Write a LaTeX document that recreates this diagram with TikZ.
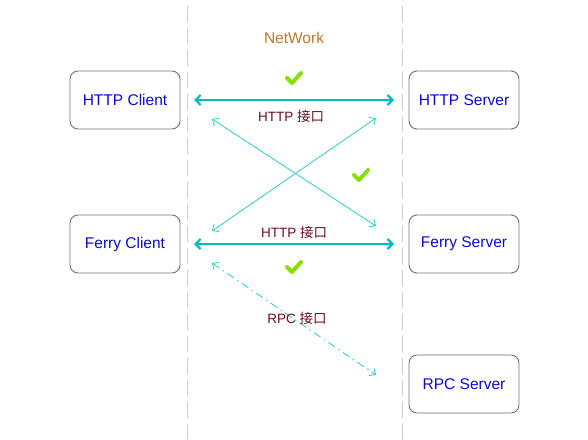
\documentclass[tikz,border=0pt]{standalone}
\usepackage{fontspec}
\setmainfont{Liberation Sans}
\newfontfamily\cjk{Noto Sans CJK SC}
\usetikzlibrary{arrows.meta}
\definecolor{boxline}{HTML}{707070}
\definecolor{nodetext}{HTML}{0A0ACC}
\definecolor{labred}{HTML}{700A1C}
\definecolor{netcol}{HTML}{B87A30}
\definecolor{cyanA}{HTML}{00BEBE}
\definecolor{cyanB}{HTML}{30C8C8}
\definecolor{okgreen}{HTML}{88E000}
\definecolor{sepgray}{HTML}{CCCCCC}
\tikzset{
  box/.style={draw=boxline, line width=0.9pt, rounded corners=8pt, minimum width=110pt, minimum height=58pt, text=nodetext, font=\fontsize{15.5}{18}\selectfont},
  lab/.style={text=labred, font=\fontsize{13.5}{16}\selectfont, inner sep=1pt},
  thickarr/.style={draw=cyanA, line width=2.2pt, {Straight Barb[length=5pt,width=10pt]}-{Straight Barb[length=5pt,width=10pt]}},
  thinarr/.style={draw=cyanB, line width=0.8pt, {Straight Barb[length=5pt,width=9pt]}-{Straight Barb[length=5pt,width=9pt]}},
  sep/.style={draw=sepgray, line width=0.9pt, dash pattern=on 16pt off 6pt},
  tick/.style={draw=okgreen, line width=4pt, line cap=round, line join=round},
}
\begin{document}
\begin{tikzpicture}[x=1pt,y=-1pt]
\useasboundingbox (0,0) rectangle (588,439);
% separators
\coordinate (s1t) at (187,6); \coordinate (s1b) at (187,439);
\coordinate (s2t) at (402,6); \coordinate (s2b) at (402,439);
\draw[sep] (s1t) -- (s1b);
\draw[sep] (s2t) -- (s2b);
% boxes
\node[box] (hc) at (125,100) {HTTP Client};
\node[box] (hs) at (464,100) {HTTP Server};
\node[box] (fc) at (125,244) {Ferry Client};
\node[box] (fs) at (464,244) {Ferry Server};
\node[box] (rs) at (464,384) {RPC Server};
\node[text=netcol, font=\fontsize{15.5}{18}\selectfont] (net) at (294,38) {NetWork};
% connectors
\coordinate (a1) at (194,100); \coordinate (a2) at (394,100);
\draw[thickarr] (a1) -- (a2);
\node[lab] (l1) at (291,116) {HTTP {\cjk 接口}};
\coordinate (b1) at (194,244); \coordinate (b2) at (394,244);
\draw[thickarr] (b1) -- (b2);
\node[lab] (l2) at (294,232) {HTTP {\cjk 接口}};
\coordinate (c1) at (212,119); \coordinate (c2) at (376,226);
\draw[thinarr] (c1) -- (c2);
\coordinate (d1) at (212,231); \coordinate (d2) at (376,118);
\draw[thinarr] (d1) -- (d2);
\coordinate (e1) at (212,263); \coordinate (e2) at (376,375);
\draw[thinarr, dash pattern=on 8pt off 4pt on 1.5pt off 4pt] (e1) -- (e2);
\node[lab] (l3) at (297,318) {RPC {\cjk 接口}};
% ticks
\foreach \cx/\cy in {294/78, 361/175, 294/267}{
  \draw[tick] (\cx-7,\cy) -- (\cx-2,\cy+5) -- (\cx+7,\cy-5);
}
\end{tikzpicture}
\end{document}
